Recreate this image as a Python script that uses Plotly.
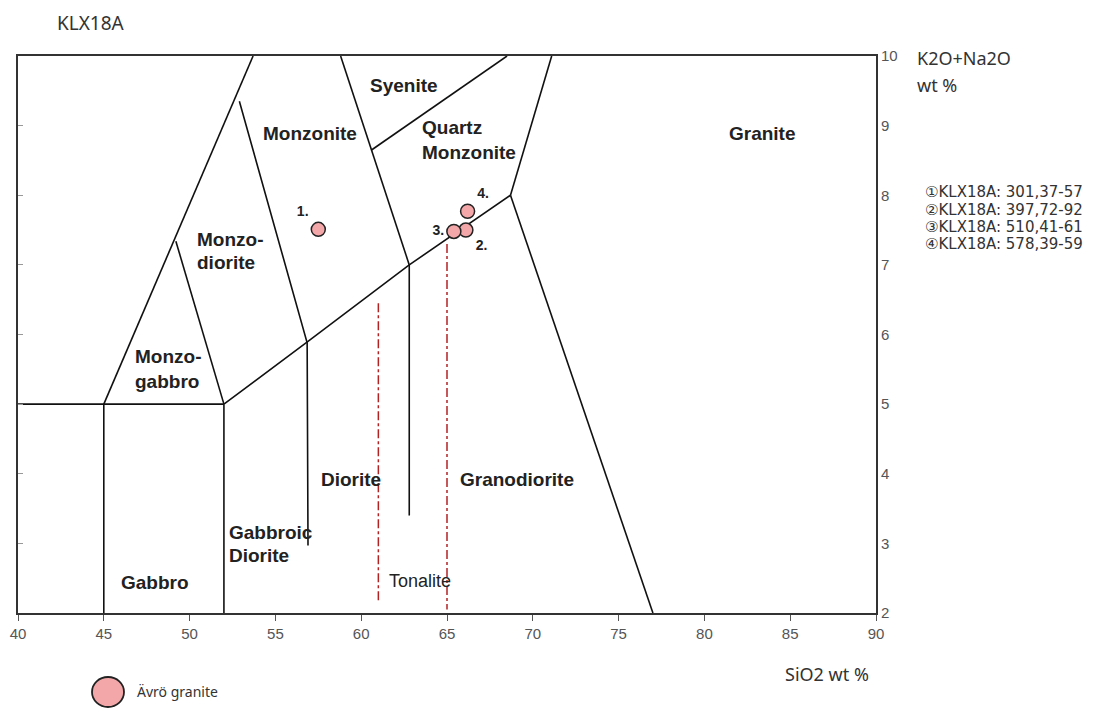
import plotly.graph_objects as go

# ---------------- data ----------------
x_ticks = [40, 45, 50, 55, 60, 65, 70, 75, 80, 85, 90]
y_ticks = [2, 3, 4, 5, 6, 7, 8, 9, 10]

# classification field boundaries (SiO2, K2O+Na2O), one polyline each
boundary_x = [
    [45, 45], [40, 52], [52, 52], [45, 53.7], [52, 49.2],
    [52.9, 56.85, 56.9], [52, 56.9, 62.8, 68.7], [62.8, 62.8],
    [58.8, 62.8], [60.6, 68.5], [71.1, 68.7], [68.7, 77.0],
]
boundary_y = [
    [2, 5], [5, 5], [2, 5], [5, 10], [5, 7.34],
    [9.35, 5.88, 2.97], [5, 5.9, 7.0, 8.0], [7.0, 3.4],
    [10, 7.0], [8.65, 10], [10, 8.0], [8.0, 2.0],
]
# tonalite dash-dot boundaries
tonalite_x = [[61, 61], [65, 65]]
tonalite_y = [[6.45, 2.15], [7.3, 2.05]]

# field names
field_names = ["Syenite", "Monzonite", "Quartz", "Monzonite", "Granite",
               "Monzo-", "diorite", "Monzo-", "gabbro", "Diorite",
               "Granodiorite", "Gabbroic", "Diorite", "Gabbro"]
field_x = [62.49, 57.02, 63.43, 63.43, 83.41, 50.31, 50.31, 46.70, 46.70,
           59.43, 69.08, 52.18, 52.18, 47.98]
field_y = [9.58, 8.89, 8.98, 8.62, 8.89, 7.37, 7.03, 5.69, 5.32,
           3.92, 3.92, 3.16, 2.83, 2.44]
field_anchor = ["center", "center", "left", "left", "center", "left", "left",
                "left", "left", "center", "center", "left", "left", "center"]

# samples (Ävrö granite)
sample_labels = ["1.", "2.", "3.", "4."]
sample_sio2 = [57.5, 66.1, 65.4, 66.2]
sample_alk = [7.51, 7.50, 7.48, 7.77]
sample_textpos = ["top left", "bottom right", "middle left", "top right"]

sample_list = ["\u2460KLX18A: 301,37-57", "\u2461KLX18A: 397,72-92",
               "\u2462KLX18A: 510,41-61", "\u2463KLX18A: 578,39-59"]

# ---------------- figure ----------------
fig = go.Figure()

bx, by = [], []
for xs, ys in zip(boundary_x, boundary_y):
    bx += xs + [None]
    by += ys + [None]
fig.add_trace(go.Scatter(x=bx, y=by, mode="lines",
                         line=dict(color="#111111", width=1.6),
                         hoverinfo="skip", showlegend=False))

tx, ty = [], []
for xs, ys in zip(tonalite_x, tonalite_y):
    tx += xs + [None]
    ty += ys + [None]
fig.add_trace(go.Scatter(x=tx, y=ty, mode="lines",
                         line=dict(color="#B22222", width=1.5, dash="dashdot"),
                         hoverinfo="skip", showlegend=False))

fig.add_trace(go.Scatter(
    x=sample_sio2, y=sample_alk, mode="markers+text",
    text=sample_labels, textposition=sample_textpos,
    textfont=dict(family="Liberation Sans, Arial", size=14, color="#222222"),
    texttemplate="<b>%{text}</b>",
    marker=dict(size=14, color="#F4A7A9", line=dict(color="#222222", width=1.5)),
    showlegend=False, name="Ävrö granite"))

# invisible trace for the left tick axis
fig.add_trace(go.Scatter(x=[40], y=[2], yaxis="y2", mode="markers",
                         marker=dict(opacity=0), hoverinfo="skip",
                         showlegend=False))

annotations = []
for name, x, y, anc in zip(field_names, field_x, field_y, field_anchor):
    annotations.append(dict(x=x, y=y, xref="x", yref="y", text="<b>%s</b>" % name,
                            showarrow=False, xanchor=anc, yanchor="middle",
                            font=dict(family="Liberation Sans, Arial", size=19,
                                      color="#222222")))
annotations.append(dict(x=63.43, y=2.46, xref="x", yref="y", text="Tonalite",
                        showarrow=False, xanchor="center", yanchor="middle",
                        font=dict(family="Liberation Sans, Arial", size=18,
                                  color="#222222")))

txt_font = dict(family="Noto Sans, Liberation Sans", size=18, color="#333333")
annotations += [
    dict(x=0.043, y=1.086, xref="paper", yref="paper", text="KLX18A",
         showarrow=False, xanchor="left", yanchor="top",
         font=dict(family="Noto Sans, Liberation Sans", size=19, color="#333333")),
    dict(x=1.0455, y=0.9964, xref="paper", yref="paper", text="K2O+Na2O",
         showarrow=False, xanchor="left", yanchor="middle", font=txt_font),
    dict(x=1.0455, y=0.948, xref="paper", yref="paper", text="wt %",
         showarrow=False, xanchor="left", yanchor="middle", font=txt_font),
    dict(x=0.8916, y=-0.1095, xref="paper", yref="paper", text="SiO2 wt %",
         showarrow=False, xanchor="left", yanchor="middle", font=txt_font),
    dict(x=0.1364, y=-0.1418, xref="paper", yref="paper", text="Ävrö granite",
         showarrow=False, xanchor="left", yanchor="middle",
         font=dict(family="Noto Sans, Liberation Sans", size=14, color="#333333")),
]
list_y = [0.7558, 0.7244, 0.693, 0.6616]
for t, yy in zip(sample_list, list_y):
    annotations.append(dict(x=1.0548, y=yy, xref="paper", yref="paper", text=t,
                            showarrow=False, xanchor="left", yanchor="middle",
                            font=dict(family="DejaVu Sans", size=15, color="#333333")))

shapes = [dict(type="circle", xref="paper", yref="paper",
               xsizemode="pixel", ysizemode="pixel",
               xanchor=0.1049, yanchor=-0.1418,
               x0=-16, x1=16, y0=-15, y1=15,
               fillcolor="#F4A7A9", line=dict(color="#222222", width=1.8))]

fig.update_layout(
    width=1115, height=709,
    margin=dict(l=10, r=247, t=48, b=104, autoexpand=False),
    paper_bgcolor="white", plot_bgcolor="white",
    showlegend=False,
    annotations=annotations, shapes=shapes,
    xaxis=dict(range=[40, 90], tickvals=x_ticks, ticks="outside", ticklen=6,
               tickcolor="#555555", tickwidth=1, automargin=False,
               showline=True, linecolor="#333333", linewidth=2, mirror=True,
               showgrid=False, zeroline=False,
               tickfont=dict(family="Liberation Sans, Arial", size=15, color="#555555")),
    yaxis=dict(range=[2, 10], tickvals=y_ticks, side="right", ticks="",
               automargin=False,
               showline=True, linecolor="#333333", linewidth=2, mirror=True,
               showgrid=False, zeroline=False,
               tickfont=dict(family="Liberation Sans, Arial", size=15, color="#555555")),
    yaxis2=dict(range=[2, 10], overlaying="y", side="left", tickvals=y_ticks,
                ticks="inside", ticklen=5, tickcolor="#999999", automargin=False,
                showticklabels=False, showline=False, showgrid=False,
                zeroline=False),
)

fig.write_html("out.html")
